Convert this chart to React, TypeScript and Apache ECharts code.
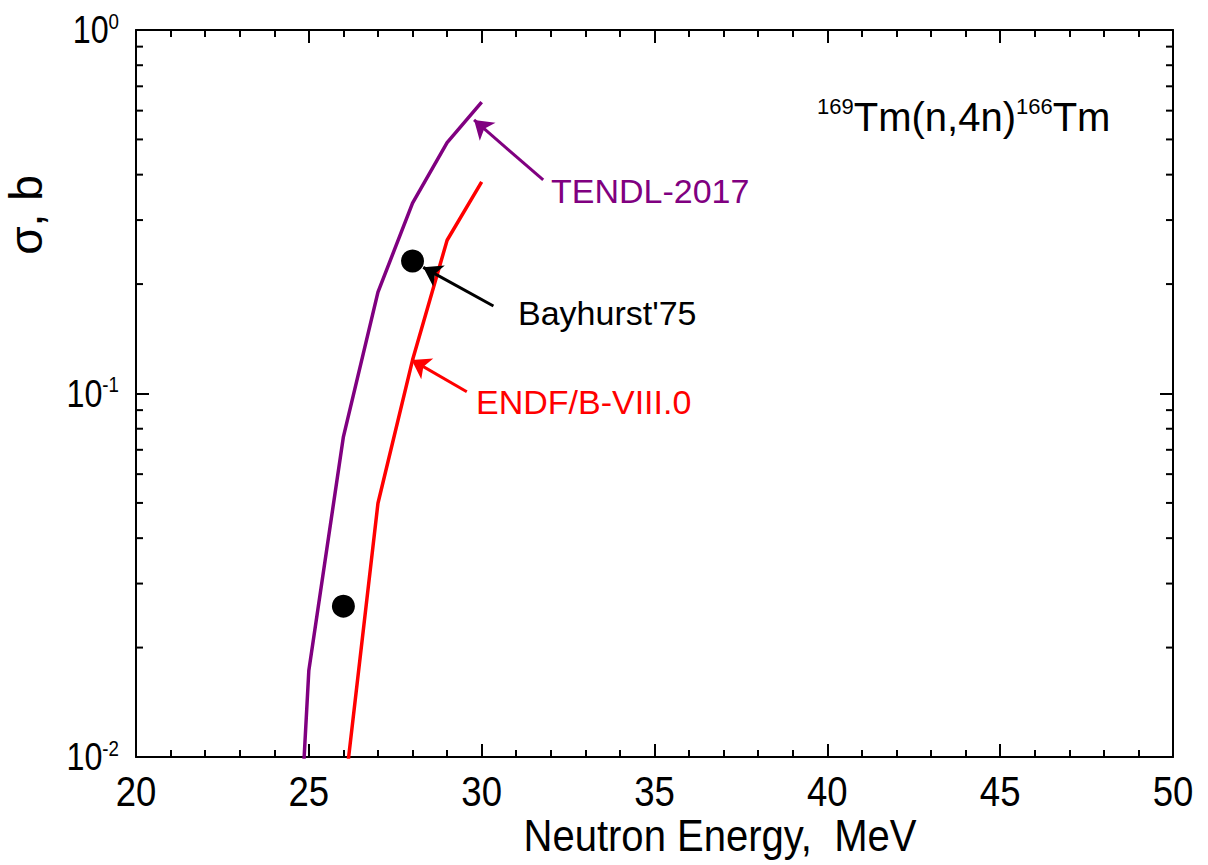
import React, { useEffect, useRef } from "react";
import * as echarts from "echarts";

// ---- data ----
const tendlE = [24.8, 25, 26, 27, 28, 29, 30];
const tendlXS = [0.0077, 0.0173, 0.076, 0.19, 0.334, 0.49, 0.633];
const endfE = [26, 27, 28, 29, 30];
const endfXS = [0.0075, 0.0499, 0.1236, 0.264, 0.382];
const expE = [26, 28];
const expXS = [0.026, 0.2315];
const xTickLabels = [20, 25, 30, 35, 40, 45, 50];
const yTickLabels = [0.01, 0.1, 1];
const yMinorTicks = [2, 3, 4, 5, 6, 7, 8, 9, 20, 30, 40, 50, 60, 70, 80, 90].map((v) => v / 100);
// annotation arrows: [tailE, tailXS, tipE, tipXS]
const tendlArrow = [31.78, 0.3867, 29.78, 0.5655];
const expArrow = [30.34, 0.174, 28.31, 0.2224];
const endfArrow = [29.57, 0.1011, 27.975, 0.1237];

const PURPLE = "#800080";
const RED = "#ff0000";
const SANS = "'Liberation Sans', Arial, sans-serif";
const NARROW_SCALE = 0.85;

const zip = (a: number[], b: number[]) => a.map((v, i) => [v, b[i]]);

function arrow(a: number[], color: string) {
  return {
    silent: true,
    symbol: ["none", "arrow"],
    symbolSize: 18,
    label: { show: false },
    lineStyle: { color, width: 3, type: "solid", opacity: 1 },
    emphasis: { disabled: true },
    data: [[{ coord: [a[0], a[1]] }, { coord: [a[2], a[3]] }]],
  };
}

export default function App() {
  const ref = useRef<HTMLDivElement>(null);
  useEffect(() => {
    const chart = echarts.init(ref.current!, null, { renderer: "svg" });
    const axisLine = { show: true, onZero: false, lineStyle: { color: "#000", width: 2 } };
    const xCommon = {
      type: "value",
      min: 20,
      max: 50,
      interval: 5,
      axisLine,
      axisLabel: { show: false },
      axisTick: { show: true, inside: true, length: 13, lineStyle: { color: "#000", width: 2 } },
      minorTick: { show: true, splitNumber: 5, length: 7, lineStyle: { color: "#000", width: 2 } },
      splitLine: { show: false },
      minorSplitLine: { show: false },
    };
    const yCommon = {
      type: "log",
      logBase: 10,
      min: 0.01,
      max: 1,
      axisLine,
      axisLabel: { show: false },
      axisTick: { show: true, inside: true, length: 13, lineStyle: { color: "#000", width: 2 } },
      minorTick: { show: false },
      splitLine: { show: false },
    };
    chart.setOption({
      animation: false,
      backgroundColor: "#fff",
      grid: { left: 136, top: 30, width: 1037, height: 727, containLabel: false },
      xAxis: [
        { ...xCommon, position: "bottom" },
        { ...xCommon, position: "top" },
      ],
      yAxis: [
        { ...yCommon, position: "left" },
        { ...yCommon, position: "right" },
      ],
      graphic: [
        {
          type: "text",
          x: 720,
          y: 836,
          scaleX: 0.91,
          style: {
            text: "Neutron Energy,  MeV",
            fontFamily: SANS,
            fontSize: 44,
            fill: "#000",
            align: "center",
            verticalAlign: "middle",
          },
        },
        {
          type: "text",
          x: 817,
          y: 117,
          style: {
            text: "{s|169}{m|Tm(n,4n)}{s|166}{m|Tm}",
            verticalAlign: "middle",
            rich: {
              m: { fontFamily: SANS, fontSize: 40, lineHeight: 44, fill: "#000" },
              s: { fontFamily: SANS, fontSize: 22, lineHeight: 22, verticalAlign: "top", fill: "#000" },
            },
          },
        },
        {
          type: "text",
          x: 551,
          y: 191,
          style: { text: "TENDL-2017", fontFamily: SANS, fontSize: 34, fill: PURPLE, verticalAlign: "middle" },
        },
        {
          type: "text",
          x: 518,
          y: 313,
          style: { text: "Bayhurst'75", fontFamily: SANS, fontSize: 34, fill: "#000", verticalAlign: "middle" },
        },
        {
          type: "text",
          x: 476,
          y: 402,
          style: { text: "ENDF/B-VIII.0", fontFamily: SANS, fontSize: 34, fill: RED, verticalAlign: "middle" },
        },
        {
          type: "text",
          x: 49,
          y: 215,
          rotation: Math.PI / 2,
          style: {
            text: "σ, b",
            fontFamily: SANS,
            fontSize: 46,
            fill: "#000",
            align: "center",
            verticalAlign: "bottom",
          },
        },
      ],
      series: [
        {
          type: "custom",
          silent: true,
          clip: false,
          data: yMinorTicks.map((v) => [20, v]),
          renderItem: (_p: any, api: any) => {
            const v = api.value(1);
            const l = api.coord([20, v]);
            const r = api.coord([50, v]);
            const st = { stroke: "#000", lineWidth: 2 };
            return {
              type: "group",
              children: [
                { type: "line", shape: { x1: l[0], y1: l[1], x2: l[0] + 7, y2: l[1] }, style: st },
                { type: "line", shape: { x1: r[0], y1: r[1], x2: r[0] - 7, y2: r[1] }, style: st },
              ],
            };
          },
        },
        {
          type: "custom",
          silent: true,
          clip: false,
          data: xTickLabels.map((v) => [v, 0.01]),
          renderItem: (_p: any, api: any) => {
            const v = api.value(0);
            const p = api.coord([v, 0.01]);
            return {
              type: "text",
              x: p[0],
              y: p[1] + 34,
              scaleX: NARROW_SCALE,
              style: {
                text: String(v),
                fontFamily: SANS,
                fontSize: 43,
                fill: "#000",
                align: "center",
                verticalAlign: "middle",
              },
            };
          },
        },
        {
          type: "custom",
          silent: true,
          clip: false,
          data: yTickLabels.map((v) => [20, v]),
          renderItem: (_p: any, api: any) => {
            const v = api.value(1);
            const p = api.coord([20, v]);
            return {
              type: "text",
              x: p[0] - 17,
              y: p[1],
              scaleX: NARROW_SCALE,
              style: {
                text: `{b|10}{s|${Math.round(Math.log10(v))}}`,
                align: "right",
                verticalAlign: "middle",
                rich: {
                  b: { fontFamily: SANS, fontSize: 38, lineHeight: 40, fill: "#000" },
                  s: { fontFamily: SANS, fontSize: 22, lineHeight: 22, verticalAlign: "top", fill: "#000" },
                },
              },
            };
          },
        },
        {
          name: "TENDL-2017",
          type: "line",
          data: zip(tendlE, tendlXS),
          showSymbol: false,
          symbol: "none",
          clip: true,
          lineStyle: { color: PURPLE, width: 3.5 },
          markLine: arrow(tendlArrow, PURPLE),
        },
        {
          name: "ENDF/B-VIII.0",
          type: "line",
          data: zip(endfE, endfXS),
          showSymbol: false,
          symbol: "none",
          clip: true,
          lineStyle: { color: RED, width: 3.5 },
          markLine: arrow(endfArrow, RED),
        },
        {
          name: "Bayhurst'75",
          type: "scatter",
          data: zip(expE, expXS),
          symbol: "circle",
          symbolSize: 23,
          itemStyle: { color: "#000", opacity: 1 },
          markLine: arrow(expArrow, "#000"),
        },
      ],
    });
    return () => chart.dispose();
  }, []);
  return (
    <div
      ref={ref}
      style={{ position: "absolute", left: 0, top: 0, width: 1208, height: 865, background: "#fff" }}
    />
  );
}
